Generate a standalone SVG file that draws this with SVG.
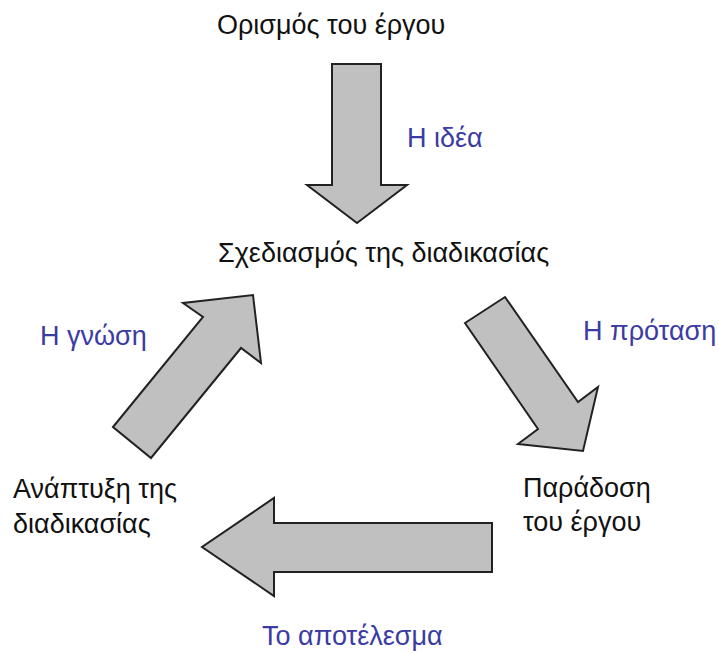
<svg xmlns="http://www.w3.org/2000/svg" width="719" height="654" viewBox="0 0 719 654">
<style>
text{font-family:"Liberation Sans",Arial,sans-serif;font-size:27px}
.n{fill:#111}
.l{fill:#3b3ba3}
.a{fill:#c0c0c0;stroke:#222;stroke-width:2;stroke-linejoin:miter}
</style>
<rect width="719" height="654" fill="#fff"/>
<g id="connectors">
<polygon class="a" points="332,64 381,64 381,185 407,185 357,223 307,185 332,185"/>
<polygon class="a" points="465,323 505,297 578,402 598,387 583,451 518,444 538,429"/>
<polygon class="a" points="492,523 492,572 274,572 274,596 202,547 274,498 274,523"/>
<polygon class="a" points="113,427 203,317 183,303 253,295 261,363 241,348 151,458"/>
<text class="l" x="407" y="147">Η ιδέα</text>
<text class="l" x="583" y="340">Η πρόταση</text>
<text class="l" x="40" y="345">Η γνώση</text>
<text class="l" x="262" y="645">Το αποτέλεσμα</text>
</g>
<g id="node-orismos"><text class="n" x="217" y="34">Ορισμός του έργου</text></g>
<g id="node-sxediasmos"><text class="n" x="218" y="262">Σχεδιασμός της διαδικασίας</text></g>
<g id="node-paradosi"><text class="n" x="523" y="497">Παράδοση</text><text class="n" x="523" y="531">του έργου</text></g>
<g id="node-anaptyxi"><text class="n" x="13" y="498">Ανάπτυξη της</text><text class="n" x="13" y="533">διαδικασίας</text></g>
</svg>
